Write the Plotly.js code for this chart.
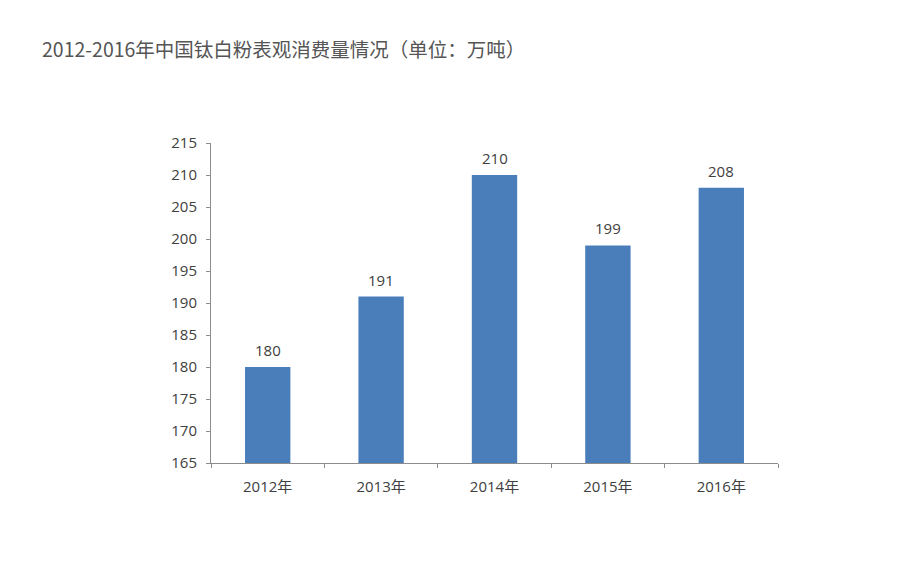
<!DOCTYPE html>
<html>
<head>
<meta charset="utf-8">
<script src="https://cdn.plot.ly/plotly-3.0.1.min.js"></script>
<style>html,body{margin:0;padding:0;background:#fff;}#chart{width:900px;height:563px;}</style>
</head>
<body>
<div id="chart"></div>
<script>
const categories = ["2012年", "2013年", "2014年", "2015年", "2016年"];
const consumption = [180, 191, 210, 199, 208];
const yTicks = [165, 170, 175, 180, 185, 190, 195, 200, 205, 210, 215];

const tickFont = {family: "Open Sans, Noto Sans CJK SC, sans-serif", size: 15, color: "#404040"};

const trace = {
  type: "bar",
  x: categories,
  y: consumption,
  marker: {color: "#4a7ebb", line: {width: 0}},
  hoverinfo: "none"
};

const labels = categories.map((c, i) => ({
  x: c, y: consumption[i], xref: "x", yref: "y",
  text: String(consumption[i]),
  showarrow: false,
  yanchor: "middle",
  yshift: 17,
  font: tickFont
}));

const layout = {
  width: 900,
  height: 563,
  paper_bgcolor: "#ffffff",
  plot_bgcolor: "#ffffff",
  margin: {l: 211, r: 122, t: 143, b: 100},
  bargap: 0.6,
  showlegend: false,
  annotations: labels,
  title: {
    text: "2012-2016年中国钛白粉表观消费量情况（单位：万吨）",
    font: {family: "Noto Sans CJK SC, sans-serif", size: 19.5, color: "#555555"},
    x: 42 / 900, xref: "container", xanchor: "left",
    y: 1 - 50 / 563, yref: "container", yanchor: "middle"
  },
  xaxis: {
    type: "category",
    showline: true,
    linecolor: "#8c8c8c",
    linewidth: 1,
    ticks: "outside",
    tickson: "boundaries",
    ticklen: 4,
    tickcolor: "#8c8c8c",
    ticklabelstandoff: 10,
    tickfont: tickFont,
    showgrid: false,
    zeroline: false,
    fixedrange: true
  },
  yaxis: {
    range: [165, 215],
    tickvals: yTicks,
    showline: true,
    linecolor: "#8c8c8c",
    linewidth: 1,
    ticks: "outside",
    ticklen: 4,
    tickcolor: "#8c8c8c",
    ticklabelstandoff: 6,
    tickfont: tickFont,
    showgrid: false,
    zeroline: false,
    fixedrange: true
  }
};

Plotly.newPlot("chart", [trace], layout, {displayModeBar: false, staticPlot: true});
</script>
</body>
</html>
